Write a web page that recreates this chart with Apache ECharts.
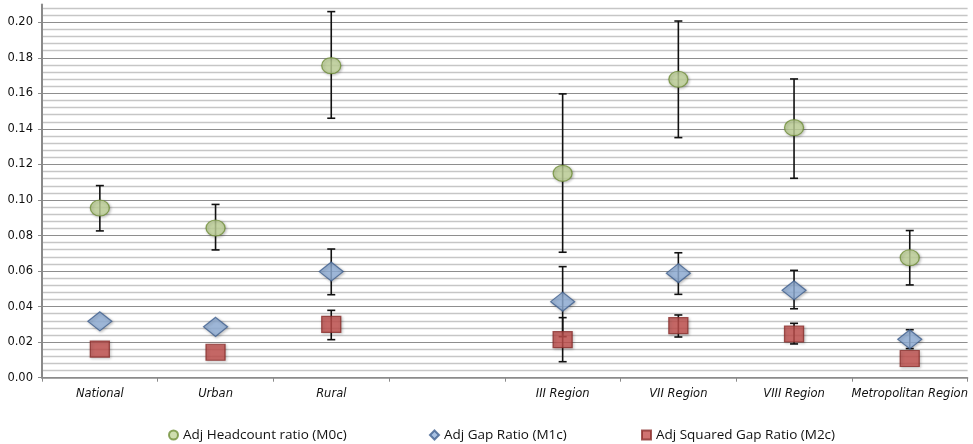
<!DOCTYPE html>
<html>
<head>
<meta charset="utf-8">
<script src="https://cdn.jsdelivr.net/npm/echarts@6/dist/echarts.min.js"></script>
<style>
html,body{margin:0;padding:0;background:#fff;}
#c{width:973px;height:444px;}
</style>
</head>
<body>
<div id="c"></div>
<script>
var categories = ['National', 'Urban', 'Rural', '', 'III Region', 'VII Region', 'VIII Region', 'Metropolitan Region'];
var yTicks = [0, 0.02, 0.04, 0.06, 0.08, 0.10, 0.12, 0.14, 0.16, 0.18, 0.20];

var m0 = [0.0955, 0.0842, 0.1756, null, 0.1150, 0.1679, 0.1407, 0.0675];
var m0Low = [0.0826, 0.0719, 0.1460, null, 0.0706, 0.1351, 0.1122, 0.0522];
var m0High = [0.1081, 0.0975, 0.2060, null, 0.1597, 0.2007, 0.1681, 0.0828];

var m1 = [0.0317, 0.0286, 0.0597, null, 0.0428, 0.0588, 0.0492, 0.0216];
var m1Low = [null, null, 0.0467, null, 0.0231, 0.0469, 0.0388, 0.0164];
var m1High = [null, null, 0.0724, null, 0.0625, 0.0703, 0.0604, 0.0270];

var m2 = [0.0161, 0.0143, 0.0300, null, 0.0214, 0.0293, 0.0246, 0.0108];
var m2Low = [null, null, 0.0214, null, 0.0090, 0.0229, 0.0190, null];
var m2High = [null, null, 0.0379, null, 0.0338, 0.0353, 0.0306, null];

var names = ['Adj Headcount ratio (M0c)', 'Adj Gap Ratio (M1c)', 'Adj Squared Gap Ratio (M2c)'];
var icons = ['circle', 'diamond', 'rect'];
var legendLeft = [163, 424, 636];

function errData(lo, hi) {
  var out = [];
  for (var i = 0; i < categories.length; i++) {
    if (lo[i] != null && hi[i] != null) out.push([i, lo[i], hi[i]]);
  }
  return out;
}
function ptData(v) {
  var out = [];
  for (var i = 0; i < v.length; i++) { if (v[i] != null) out.push([i, v[i]]); }
  return out;
}
function renderErr(params, api) {
  var x = api.value(0);
  var p1 = api.coord([x, api.value(1)]);
  var p2 = api.coord([x, api.value(2)]);
  var hw = 4;
  var st = {stroke: '#111', lineWidth: 1.6};
  return {
    type: 'group',
    children: [
      {type: 'line', shape: {x1: p1[0], y1: p1[1], x2: p2[0], y2: p2[1]}, style: st},
      {type: 'line', shape: {x1: p1[0] - hw, y1: p1[1], x2: p1[0] + hw, y2: p1[1]}, style: st},
      {type: 'line', shape: {x1: p2[0] - hw, y1: p2[1], x2: p2[0] + hw, y2: p2[1]}, style: st}
    ]
  };
}
var majorColors = [];
for (var k = 0; k < yTicks.length; k++) majorColors.push('#8e8e8e');
majorColors.push('rgba(0,0,0,0)');

var shadow = {shadowBlur: 3, shadowColor: 'rgba(0,0,0,0.3)', shadowOffsetX: 1, shadowOffsetY: 1};

var legends = [];
for (var j = 0; j < names.length; j++) {
  legends.push({
    left: legendLeft[j], top: 423, itemWidth: 9, itemHeight: 9, itemGap: 4,
    textStyle: {fontFamily: 'Open Sans', fontSize: 13.5, color: '#111'},
    data: [{name: names[j], icon: icons[j]}]
  });
}

var chart = echarts.init(document.getElementById('c'));
chart.setOption({
  backgroundColor: '#fff',
  animation: false,
  grid: {left: 42, right: 5.4, top: 4.5, bottom: 66.3},
  legend: legends,
  xAxis: {
    type: 'category', data: categories, boundaryGap: true,
    axisLine: {lineStyle: {color: '#8a8a8a', width: 1.5}},
    axisTick: {show: true, length: 4, lineStyle: {color: '#8a8a8a'}},
    axisLabel: {fontFamily: 'DejaVu Sans', fontStyle: 'italic', fontSize: 11.5, color: '#111', margin: 10, interval: 0},
    splitLine: {show: false}
  },
  yAxis: {
    type: 'value', min: 0, max: 0.21, interval: 0.02,
    axisLine: {show: true, lineStyle: {color: '#8a8a8a', width: 2}},
    axisTick: {show: true, length: 4, lineStyle: {color: '#8a8a8a'}},
    axisLabel: {fontFamily: 'DejaVu Sans', fontSize: 11.5, color: '#111', margin: 9, showMaxLabel: false,
      formatter: function (v) { return v.toFixed(2); }},
    splitLine: {show: true, lineStyle: {color: majorColors, width: 1.2}},
    minorTick: {show: false, splitNumber: 5},
    minorSplitLine: {show: true, lineStyle: {color: '#c6c6c6', width: 1.3}}
  },
  series: [
    {type: 'custom', renderItem: renderErr, data: errData(m0Low, m0High), z: 2, encode: {x: 0, y: [1, 2]}, silent: true},
    {type: 'custom', renderItem: renderErr, data: errData(m1Low, m1High), z: 2, encode: {x: 0, y: [1, 2]}, silent: true},
    {type: 'custom', renderItem: renderErr, data: errData(m2Low, m2High), z: 2, encode: {x: 0, y: [1, 2]}, silent: true},
    {name: names[0], type: 'scatter', symbol: 'circle', symbolSize: [19, 16], z: 5, data: ptData(m0),
      itemStyle: Object.assign({color: '#c3d69b', borderColor: '#6f8f37', borderWidth: 1.2}, shadow)},
    {name: names[1], type: 'scatter', symbol: 'diamond', symbolSize: [24, 19], z: 5, data: ptData(m1),
      itemStyle: Object.assign({color: '#93b3dc', borderColor: '#3f5f8f', borderWidth: 1.2}, shadow)},
    {name: names[2], type: 'scatter', symbol: 'rect', symbolSize: [19, 16], z: 5, data: ptData(m2),
      itemStyle: Object.assign({color: '#c4504d', borderColor: '#8a2e2c', borderWidth: 1.2}, shadow)}
  ]
});
</script>
</body>
</html>
